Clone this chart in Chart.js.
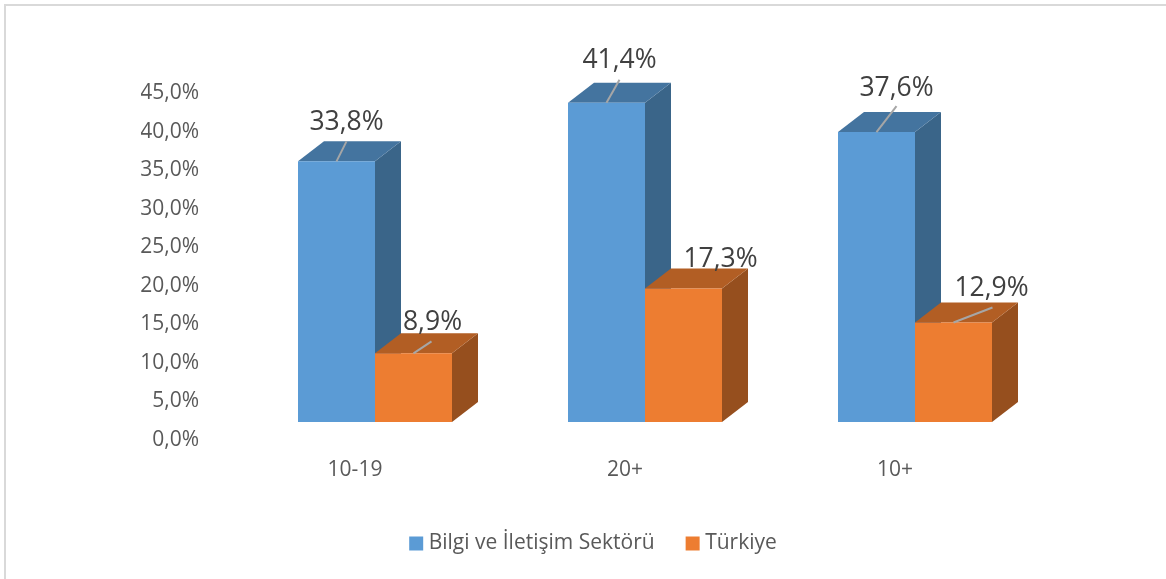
<!DOCTYPE html>
<html>
<head>
<meta charset="utf-8">
<title>Bilgi ve İletişim Sektörü - Türkiye</title>
<script src="https://cdn.jsdelivr.net/npm/chart.js@4"></script>
<style>
  html, body { margin: 0; padding: 0; background: #fff; }
  canvas { display: block; }
</style>
</head>
<body>
<canvas id="chart" width="1166" height="579"></canvas>
<script>
const categories = ['10-19', '20+', '10+'];
const sektorValues = [33.8, 41.4, 37.6];
const turkiyeValues = [8.9, 17.3, 12.9];
const seriesNames = ['Bilgi ve İletişim Sektörü', 'Türkiye'];

// data label placement relative to the bar's top centre, label + leader end
const sektorLabelShift = [[10, -39], [13, -42], [20, -44]];
const turkiyeLabelShift = [[19, -31], [37, -29], [38, -34]];
const sektorLeaderEnd = [[10, -20], [13, -23], [20, -26]];
const turkiyeLeaderEnd = [[18, -12], null, [39, -15]];

const depthX = 26;
const depthY = -20;
const fontName = '"Open Sans", sans-serif';

const fmt = v => v.toFixed(1).replace('.', ',') + '%';

function face(ctx, pts, color) {
    ctx.fillStyle = color;
    ctx.beginPath();
    pts.forEach((p, i) => i ? ctx.lineTo(p[0], p[1]) : ctx.moveTo(p[0], p[1]));
    ctx.closePath();
    ctx.fill();
}

const bars3d = {
    id: 'bars3d',
    beforeDraw(chart) {
        // only the top and left edges of the frame are visible
        const ctx = chart.ctx;
        ctx.save();
        ctx.strokeStyle = '#d9d9d9';
        ctx.lineWidth = 2;
        ctx.beginPath();
        ctx.moveTo(5, 579);
        ctx.lineTo(5, 5);
        ctx.lineTo(1166, 5);
        ctx.stroke();
        ctx.restore();
    },
    // side and top faces go under all the front faces, first series first
    beforeDatasetsDraw(chart) {
        const ctx = chart.ctx;
        const base = chart.scales.y.getPixelForValue(0);
        ctx.save();
        chart.data.datasets.forEach((ds, d) => {
            chart.getDatasetMeta(d).data.forEach(bar => {
                const l = bar.x - bar.width / 2;
                const r = bar.x + bar.width / 2;
                const t = bar.y;
                face(ctx, [[r, t], [r + depthX, t + depthY], [r + depthX, base + depthY], [r, base]], ds.sideColor);
                face(ctx, [[l, t], [l + depthX, t + depthY], [r + depthX, t + depthY], [r, t]], ds.topColor);
            });
        });
        ctx.restore();
    },
    afterDatasetsDraw(chart) {
        const ctx = chart.ctx;
        ctx.save();
        chart.data.datasets.forEach((ds, d) => {
            chart.getDatasetMeta(d).data.forEach((bar, i) => {
                const end = ds.leaderEnd[i];
                if (end) {
                    ctx.strokeStyle = '#a6a6a6';
                    ctx.lineWidth = 2;
                    ctx.beginPath();
                    ctx.moveTo(bar.x, bar.y);
                    ctx.lineTo(bar.x + end[0], bar.y + end[1]);
                    ctx.stroke();
                }
                const s = ds.labelShift[i];
                ctx.fillStyle = '#404040';
                ctx.font = '26.5px ' + fontName;
                ctx.textAlign = 'center';
                ctx.textBaseline = 'middle';
                ctx.fillText(fmt(ds.data[i]), bar.x + s[0], bar.y + s[1]);
            });
        });
        ctx.restore();
    }
};

new Chart(document.getElementById('chart'), {
    type: 'bar',
    data: {
        labels: categories,
        datasets: [
            {
                label: seriesNames[0],
                data: sektorValues,
                backgroundColor: '#5b9bd5',
                topColor: '#44749f',
                sideColor: '#3a6589',
                labelShift: sektorLabelShift,
                leaderEnd: sektorLeaderEnd
            },
            {
                label: seriesNames[1],
                data: turkiyeValues,
                backgroundColor: '#ed7d31',
                topColor: '#b25e24',
                sideColor: '#964f1e',
                labelShift: turkiyeLabelShift,
                leaderEnd: turkiyeLeaderEnd
            }
        ]
    },
    options: {
        responsive: false,
        animation: false,
        layout: { padding: { top: 75, right: 116, bottom: 15, left: 141 } },
        datasets: { bar: { barPercentage: 1, categoryPercentage: 154 / 270 } },
        scales: {
            x: {
                grid: { display: false, drawTicks: false },
                border: { display: false },
                ticks: { color: '#595959', font: { family: fontName, size: 21 }, padding: 35, labelOffset: -20, maxRotation: 0 },
                afterFit(scale) { scale.height = 75; }
            },
            y: {
                min: 0,
                max: 45,
                grid: { display: false, drawTicks: false },
                border: { display: false },
                ticks: {
                    stepSize: 5,
                    color: '#595959',
                    font: { family: fontName, size: 21 },
                    padding: 41,
                    labelOffset: 18,
                    callback: v => fmt(v)
                },
                afterFit(scale) { scale.width = 99; }
            }
        },
        plugins: {
            tooltip: { enabled: false },
            legend: {
                position: 'bottom',
                labels: {
                    color: '#595959',
                    font: { family: fontName, size: 21 },
                    boxWidth: 4,
                    boxHeight: 4,
                    padding: 36,
                    // small box with a thick stroke keeps the text close to the swatch
                    generateLabels(chart) {
                        return Chart.defaults.plugins.legend.labels.generateLabels(chart).map(item => {
                            item.strokeStyle = item.fillStyle;
                            item.lineWidth = 10;
                            return item;
                        });
                    }
                }
            }
        }
    },
    plugins: [bars3d]
});
</script>
</body>
</html>
